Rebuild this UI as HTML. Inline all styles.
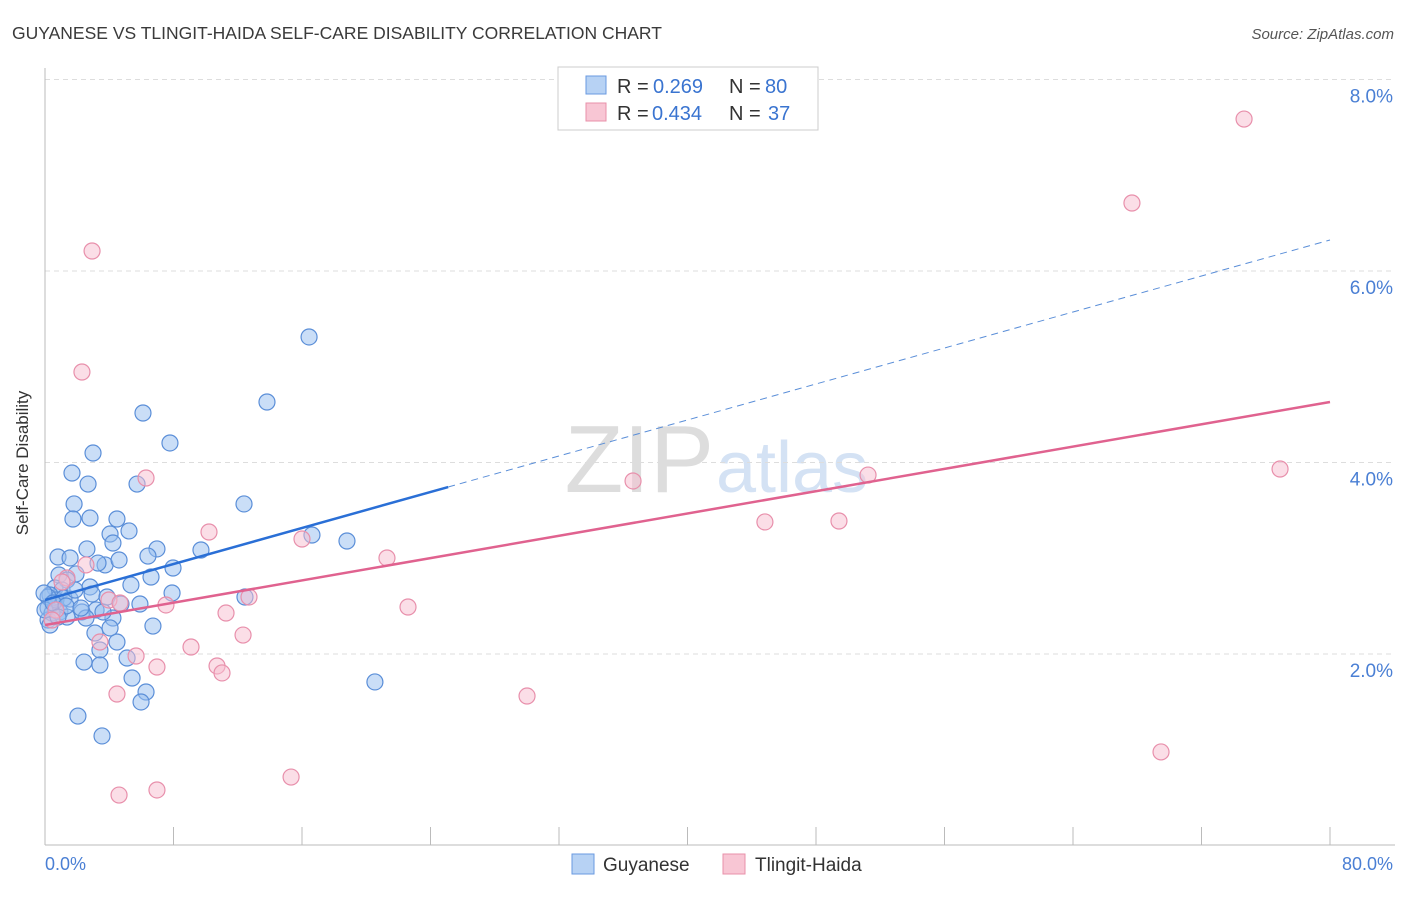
<!DOCTYPE html>
<html><head><meta charset="utf-8"><style>
body{margin:0;background:#fff;font-family:"Liberation Sans",sans-serif;}
svg text{font-family:"Liberation Sans",sans-serif;}
</style></head><body>
<svg width="1406" height="892">
<text x="12" y="39" font-size="17.5" fill="#3a3a3a">GUYANESE VS TLINGIT-HAIDA SELF-CARE DISABILITY CORRELATION CHART</text>
<text x="1394" y="39" font-size="15" fill="#555" text-anchor="end" font-style="italic">Source: ZipAtlas.com</text>
<text x="714" y="492" font-size="96" fill="#ddd" text-anchor="end" font-family="Liberation Serif">ZIP</text>
<text x="716" y="492" font-size="72" fill="#d4e2f4">atlas</text>
<g id="grid"></g>
<line x1="45" y1="68" x2="45" y2="845" stroke="#bbb"/>
<line x1="45" y1="845" x2="1395" y2="845" stroke="#bbb"/>
<g id="ticks"></g>
<text x="20" y="455" font-size="17" fill="#333" transform="rotate(-90 28 455)" text-anchor="middle">Self-Care Disability</text>
<text x="45" y="870" font-size="18" fill="#4a7fd4">0.0%</text>
<text x="1393" y="870" font-size="18" fill="#4a7fd4" text-anchor="end">80.0%</text>
<g id="pts"></g>
<g id="lines"></g>
<g>
<rect x="558" y="67" width="260" height="63" fill="#fff" stroke="#ccc"/>
<rect x="586" y="76" width="20" height="18" fill="#b7d2f4" stroke="#6a9ae0"/>
<rect x="586" y="103" width="20" height="18" fill="#f8c6d4" stroke="#e890aa"/>
<text x="617" y="93" font-size="20" fill="#333">R =</text>
<text x="653" y="93" font-size="20" fill="#3a74d0">0.269</text>
<text x="729" y="93" font-size="20" fill="#333">N =</text>
<text x="765" y="93" font-size="20" fill="#3a74d0">80</text>
<text x="617" y="120" font-size="20" fill="#333">R =</text>
<text x="652" y="120" font-size="20" fill="#3a74d0">0.434</text>
<text x="729" y="120" font-size="20" fill="#333">N =</text>
<text x="768" y="120" font-size="20" fill="#3a74d0">37</text>
</g>
<g>
<rect x="572" y="854" width="22" height="20" fill="#b7d2f4" stroke="#6a9ae0"/>
<text x="603" y="871" font-size="19" fill="#333">Guyanese</text>
<rect x="723" y="854" width="22" height="20" fill="#f8c6d4" stroke="#e890aa"/>
<text x="755" y="871" font-size="19" fill="#333">Tlingit-Haida</text>
</g>
</svg>
<script>
const yTicks=[2,4,6,8];
const yTickLabels=["2.0%","4.0%","6.0%","8.0%"];
const xTicks=[0,8,16,24,32,40,48,56,64,72,80];
const bluePx=[[309,337],[267,402],[143,413],[170,443],[93,453],[72,473],[88,484],[137,484],[74,504],[244,504],[73,519],[90,518],[117,519],[129,531],[110,534],[113,543],[312,535],[347,541],[87,549],[201,550],[157,549],[148,556],[58,557],[70,558],[105,565],[119,560],[98,563],[173,568],[59,575],[76,574],[151,577],[67,580],[131,585],[90,587],[55,588],[62,590],[172,593],[245,597],[50,595],[70,599],[140,604],[121,604],[96,610],[55,605],[82,612],[48,608],[60,612],[86,618],[113,618],[67,617],[48,620],[52,613],[153,626],[95,633],[117,642],[100,650],[127,658],[84,662],[100,665],[375,682],[132,678],[146,692],[141,702],[78,716],[102,736],[56,600],[64,598],[48,597],[45,610],[50,625],[44,593],[110,628],[103,612],[92,594],[53,603],[66,606],[58,617],[75,590],[81,608],[107,597]];
const pinkPx=[[1244,119],[1132,203],[92,251],[82,372],[146,478],[633,481],[868,475],[1280,469],[765,522],[839,521],[209,532],[302,539],[387,558],[86,565],[67,578],[62,582],[109,600],[249,597],[166,605],[408,607],[226,613],[120,603],[243,635],[191,647],[100,642],[136,656],[217,666],[157,667],[222,673],[117,694],[527,696],[1161,752],[291,777],[157,790],[119,795],[56,610],[52,620]];
const toData=p=>[+((p[0]-45)/16.0625).toFixed(2),+((845.5-p[1])/95.75).toFixed(3)];
const blueX=bluePx.map(p=>toData(p)[0]), blueY=bluePx.map(p=>toData(p)[1]);
const pinkX=pinkPx.map(p=>toData(p)[0]), pinkY=pinkPx.map(p=>toData(p)[1]);
const blueFit=[2.564,6.324], pinkFit=[2.303,4.632], blueSolidEnd=25.1;
const X=v=>45+v*16.0625, Y=v=>845.5-v*95.75;
const NS="http://www.w3.org/2000/svg";
function mk(t,a,parent){const e=document.createElementNS(NS,t);for(const k in a)e.setAttribute(k,a[k]);document.getElementById(parent).appendChild(e);return e;}
yTicks.forEach((t,i)=>{
 const g=mk('line',{x1:45,x2:1395,y1:Y(t),y2:Y(t),stroke:'#ddd','stroke-dasharray':'5,4'},'grid');
 
 
 const l=mk('text',{x:1393,y:Y(t)+23,'font-size':19,fill:'#4a7fd4','text-anchor':'end'},'grid');
 l.textContent=yTickLabels[i];
 
 
});
xTicks.forEach(t=>{
 const e=mk('line',{x1:X(t),x2:X(t),y1:827,y2:845,stroke:'#bbb'},'ticks');
 
 
});
blueX.forEach((x,i)=>{
 const c=mk('circle',{cx:X(x),cy:Y(blueY[i]),r:8,fill:'rgba(150,190,240,0.5)',stroke:'#5a8ed8','stroke-width':1.2},'pts');
 
 
});
pinkX.forEach((x,i)=>{
 const c=mk('circle',{cx:X(x),cy:Y(pinkY[i]),r:8,fill:'rgba(248,190,208,0.5)',stroke:'#e88fab','stroke-width':1.2},'pts');
 
 
});
const bl=v=>blueFit[0]+(blueFit[1]-blueFit[0])*v/80;
let e=mk('line',{x1:X(0),y1:Y(bl(0)),x2:X(blueSolidEnd),y2:Y(bl(blueSolidEnd)),stroke:'#2a6fd6','stroke-width':2.5},'lines');


e=mk('line',{x1:X(blueSolidEnd),y1:Y(bl(blueSolidEnd)),x2:X(80),y2:Y(bl(80)),stroke:'#5a8ed8','stroke-width':1,'stroke-dasharray':'7,5'},'lines');


e=mk('line',{x1:X(0),y1:Y(pinkFit[0]),x2:X(80),y2:Y(pinkFit[1]),stroke:'#e0628f','stroke-width':2.5},'lines');


</script>
</body></html>
